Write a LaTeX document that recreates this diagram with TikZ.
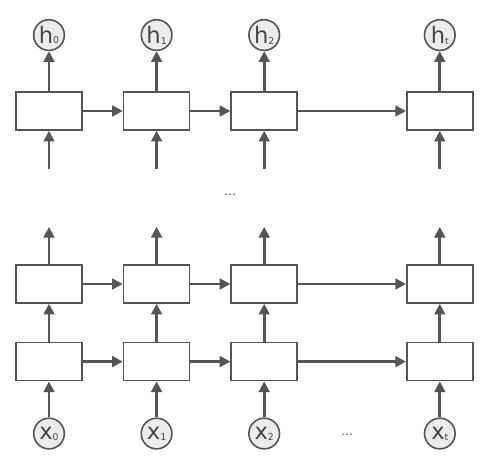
\documentclass[tikz,border=0pt]{standalone}
\usepackage{fontspec}
\setmainfont{DejaVu Sans}
\usepackage{tikz}
\usetikzlibrary{arrows.meta, positioning}

\definecolor{linegray}{RGB}{85,85,85}
\definecolor{circfill}{RGB}{236,236,236}
\definecolor{textgray}{RGB}{70,70,70}

\newcommand{\lbl}[2]{{\fontsize{17}{17}\selectfont #1}\raisebox{-0.1ex}{\fontsize{7}{7}\selectfont #2}}

\begin{document}
\begin{tikzpicture}[
    x=0.75pt, y=-0.75pt,
    cell/.style={rectangle, draw=linegray, fill=white, line width=1.2pt, minimum width=49.5pt, minimum height=28.5pt, inner sep=0pt},
    state/.style={circle, draw=linegray, fill=circfill, line width=1.2pt, minimum size=23pt, inner sep=0pt, text=textgray},
    dots/.style={text=textgray, font=\small},
    arrow/.style={-{Triangle[length=8pt, width=8pt]}, line width=2pt, draw=linegray, fill=linegray}
]
\useasboundingbox (0,0) rectangle (483,462);

% Top layer
\node[cell] (top-0) at (49,111) {};
\node[cell, right=30pt of top-0] (top-1) {};
\node[cell, right=30pt of top-1] (top-2) {};
\node[cell, right=81pt of top-2] (top-t) {};

% Outputs
\node[state, above=30pt of top-0] (h-0) {\lbl{h}{0}};
\node[state, above=30pt of top-1] (h-1) {\lbl{h}{1}};
\node[state, above=30pt of top-2] (h-2) {\lbl{h}{2}};
\node[state, above=30pt of top-t] (h-t) {\lbl{h}{t}};

% Second layer
\node[cell] (mid-0) at (49,284) {};
\node[cell, right=30pt of mid-0] (mid-1) {};
\node[cell, right=30pt of mid-1] (mid-2) {};
\node[cell, right=81pt of mid-2] (mid-t) {};

% First layer
\node[cell, below=28.5pt of mid-0] (low-0) {};
\node[cell, below=28.5pt of mid-1] (low-1) {};
\node[cell, below=28.5pt of mid-2] (low-2) {};
\node[cell, below=28.5pt of mid-t] (low-t) {};

% Inputs
\node[state, below=27pt of low-0] (x-0) {\lbl{x}{0}};
\node[state, below=27pt of low-1] (x-1) {\lbl{x}{1}};
\node[state, below=27pt of low-2] (x-2) {\lbl{x}{2}};
\node[state, below=27pt of low-t] (x-t) {\lbl{x}{t}};

\node[dots] (skip-layers) at (230,195) {\ldots};
\node[dots] (skip-steps) at (347,435) {\ldots};

% Loose ends
\coordinate[below=28.5pt of top-0.south] (top-in-0);
\coordinate[below=28.5pt of top-1.south] (top-in-1);
\coordinate[below=28.5pt of top-2.south] (top-in-2);
\coordinate[below=28.5pt of top-t.south] (top-in-t);
\coordinate[above=28pt of mid-0.north] (mid-out-0);
\coordinate[above=28pt of mid-1.north] (mid-out-1);
\coordinate[above=28pt of mid-2.north] (mid-out-2);
\coordinate[above=28pt of mid-t.north] (mid-out-t);

% Arrows
\draw[arrow] (top-0) -- (h-0);
\draw[arrow] (top-1) -- (h-1);
\draw[arrow] (top-2) -- (h-2);
\draw[arrow] (top-t) -- (h-t);
\draw[arrow] (top-0) -- (top-1);
\draw[arrow] (top-1) -- (top-2);
\draw[arrow] (top-2) -- (top-t);
\draw[arrow] (top-in-0) -- (top-0);
\draw[arrow] (top-in-1) -- (top-1);
\draw[arrow] (top-in-2) -- (top-2);
\draw[arrow] (top-in-t) -- (top-t);

\draw[arrow] (mid-0) -- (mid-out-0);
\draw[arrow] (mid-1) -- (mid-out-1);
\draw[arrow] (mid-2) -- (mid-out-2);
\draw[arrow] (mid-t) -- (mid-out-t);
\draw[arrow] (mid-0) -- (mid-1);
\draw[arrow] (mid-1) -- (mid-2);
\draw[arrow] (mid-2) -- (mid-t);

\draw[arrow] (low-0) -- (mid-0);
\draw[arrow] (low-1) -- (mid-1);
\draw[arrow] (low-2) -- (mid-2);
\draw[arrow] (low-t) -- (mid-t);
\draw[arrow] (low-0) -- (low-1);
\draw[arrow] (low-1) -- (low-2);
\draw[arrow] (low-2) -- (low-t);

\draw[arrow] (x-0) -- (low-0);
\draw[arrow] (x-1) -- (low-1);
\draw[arrow] (x-2) -- (low-2);
\draw[arrow] (x-t) -- (low-t);

\end{tikzpicture}
\end{document}
